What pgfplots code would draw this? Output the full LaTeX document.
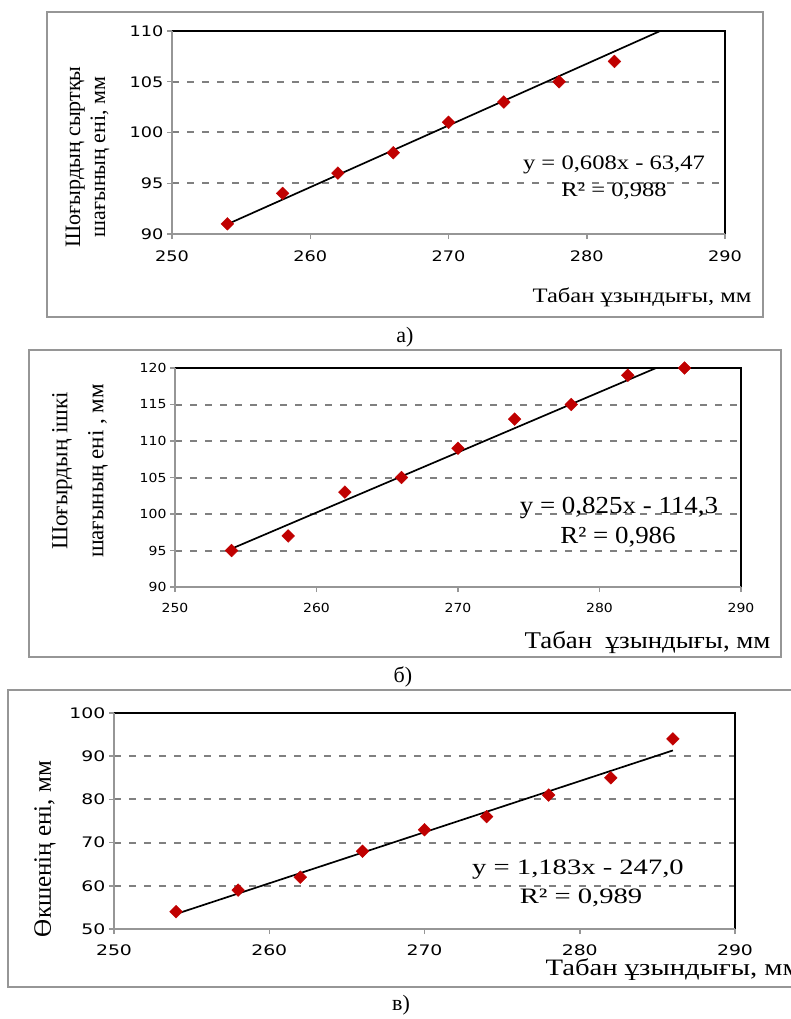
\documentclass[border=0pt]{standalone}
\usepackage{pgfplots}
\pgfplotsset{compat=1.18}
\usepackage{pgfplotstable}
\usepackage{fontspec}
\setmainfont{Liberation Serif}
\newfontfamily\tickfont{DejaVu Sans}
\definecolor{mk}{RGB}{192,0,0}
\definecolor{gridgray}{RGB}{128,128,128}
\definecolor{framegray}{RGB}{150,150,150}

\pgfplotstableread{
x y
254 91
258 94
262 96
266 98
270 101
274 103
278 105
282 107
}\dataA
\pgfplotstableread{
x y
254 95
258 97
262 103
266 105
270 109
274 113
278 115
282 119
286 120
}\dataB
\pgfplotstableread{
x y
254 54
258 59
262 62
266 68
270 73
274 76
278 81
282 85
286 94
}\dataC

\pgfplotsset{
  panel/.style={
    scale only axis, clip=false,
    xmin=250, xmax=290, xtick={250,260,...,290},
    axis line style={draw=none},
    xtick pos=bottom, ytick pos=left, tick align=outside,
    major tick length=5pt,
    tick style={framegray, line width=1.5pt},
    ymajorgrids,
    grid style={gridgray, line width=2pt, dash pattern=on 7pt off 8pt},
    /pgf/number format/assume math mode=true,
  },
  pts/.style={only marks, mark=square*, mark size=4.5pt,
    mark options={rotate=45, fill=mk, draw=mk}},
  trend/.style={black, line width=1.7pt},
}
\newcommand{\boxlines}{%
  \draw[black, line width=1.7pt] (rel axis cs:0,1) -- (rel axis cs:1,1) -- (rel axis cs:1,0);
  \draw[framegray, line width=2.4pt] (rel axis cs:0,1) -- (rel axis cs:0,0) -- (rel axis cs:1,0);
}

\begin{document}
\begin{tikzpicture}
\path[use as bounding box] (0,0) rectangle (791pt,-1019pt);

% frames
\draw[framegray, line width=2pt] (47pt,-12pt) rectangle (763pt,-317pt);
\draw[framegray, line width=2pt] (29pt,-350pt) rectangle (781pt,-657pt);
\draw[framegray, line width=2pt] (8pt,-690pt) rectangle (805pt,-987pt);

% ---- a)
\begin{axis}[panel, at={(172pt,-234pt)}, anchor=south west,
  width=553pt, height=203pt, ymin=90, ymax=110, ytick={90,95,...,110},
  ticklabel style={font=\tickfont\fontsize{14.5}{17}\selectfont},
  xticklabel style={yshift=-8pt},
  xticklabel={\scalebox{1.22}[1]{\pgfmathprintnumber{\tick}}},
  yticklabel={\scalebox{1.22}[1]{\pgfmathprintnumber{\tick}}}]
\addplot[trend] coordinates {(254,90.962)(285.31,110)};
\addplot[pts] table[x=x,y=y] {\dataA};
\boxlines
\end{axis}
\node[rotate=90, align=center, font=\fontsize{22}{25}\selectfont] at (87.5pt,-157pt)
  {Шоғырдың сыртқы\\шағының ені, мм};
\node[anchor=east, font=\fontsize{20.5}{24}\selectfont] at (755pt,-297pt)
  {\scalebox{1.2}[1]{Табан ұзындығы, мм}};
\node[font=\fontsize{20.5}{24}\selectfont] at (614pt,-165pt) {\scalebox{1.2}[1]{y = 0,608x - 63,47}};
\node[font=\fontsize{20.5}{24}\selectfont] at (614pt,-191pt) {\scalebox{1.2}[1]{R² = 0,988}};
\node[font=\fontsize{22}{26}\selectfont] at (405pt,-337pt) {а)};

% ---- б)
\begin{axis}[panel, at={(175pt,-587pt)}, anchor=south west,
  width=566pt, height=219pt, ymin=90, ymax=120, ytick={90,95,...,120},
  ticklabel style={font=\tickfont\fontsize{12.5}{15}\selectfont},
  xticklabel style={yshift=-8pt},
  xticklabel={\scalebox{1.12}[1]{\pgfmathprintnumber{\tick}}},
  yticklabel={\scalebox{1.12}[1]{\pgfmathprintnumber{\tick}}}]
\addplot[trend] coordinates {(254,95.25)(284.0,120)};
\addplot[pts] table[x=x,y=y] {\dataB};
\boxlines
\end{axis}
\node[rotate=90, align=center, font=\fontsize{23}{36}\selectfont] at (80pt,-471pt)
  {Шоғырдың ішкі\\шағының ені , мм};
\node[anchor=east, font=\fontsize{24}{28}\selectfont] at (774pt,-642pt)
  {\scalebox{1.12}[1]{Табан\ \ ұзындығы, мм}};
\node[font=\fontsize{24.5}{28}\selectfont] at (619pt,-508pt) {\scalebox{1.1}[1]{y = 0,825x - 114,3}};
\node[font=\fontsize{24.5}{28}\selectfont] at (618pt,-537pt) {\scalebox{1.1}[1]{R² = 0,986}};
\node[font=\fontsize{22}{26}\selectfont] at (403pt,-677pt) {б)};

% ---- в)
\begin{axis}[panel, at={(114pt,-929pt)}, anchor=south west,
  width=621pt, height=216pt, ymin=50, ymax=100, ytick={50,60,...,100},
  ticklabel style={font=\tickfont\fontsize{14.5}{17}\selectfont},
  xticklabel style={yshift=-7pt},
  xticklabel={\scalebox{1.3}[1]{\pgfmathprintnumber{\tick}}},
  yticklabel={\scalebox{1.3}[1]{\pgfmathprintnumber{\tick}}}]
\addplot[trend] coordinates {(254,53.482)(286,91.338)};
\addplot[pts] table[x=x,y=y] {\dataC};
\boxlines
\end{axis}
\node[rotate=90, font=\fontsize{25}{28}\selectfont] at (45pt,-849pt) {Өкшенің ені, мм};
\node[anchor=west, font=\fontsize{23.5}{28}\selectfont] at (542pt,-970pt)
  {\scalebox{1.22}[1]{Табан ұзындығы, мм}};
\node[font=\fontsize{22}{26}\selectfont] at (578pt,-870pt) {\scalebox{1.3}[1]{y = 1,183x - 247,0}};
\node[font=\fontsize{22}{26}\selectfont] at (581pt,-898pt) {\scalebox{1.3}[1]{R² = 0,989}};
\node[font=\fontsize{22}{26}\selectfont] at (401pt,-1005pt) {в)};
\end{tikzpicture}
\end{document}
